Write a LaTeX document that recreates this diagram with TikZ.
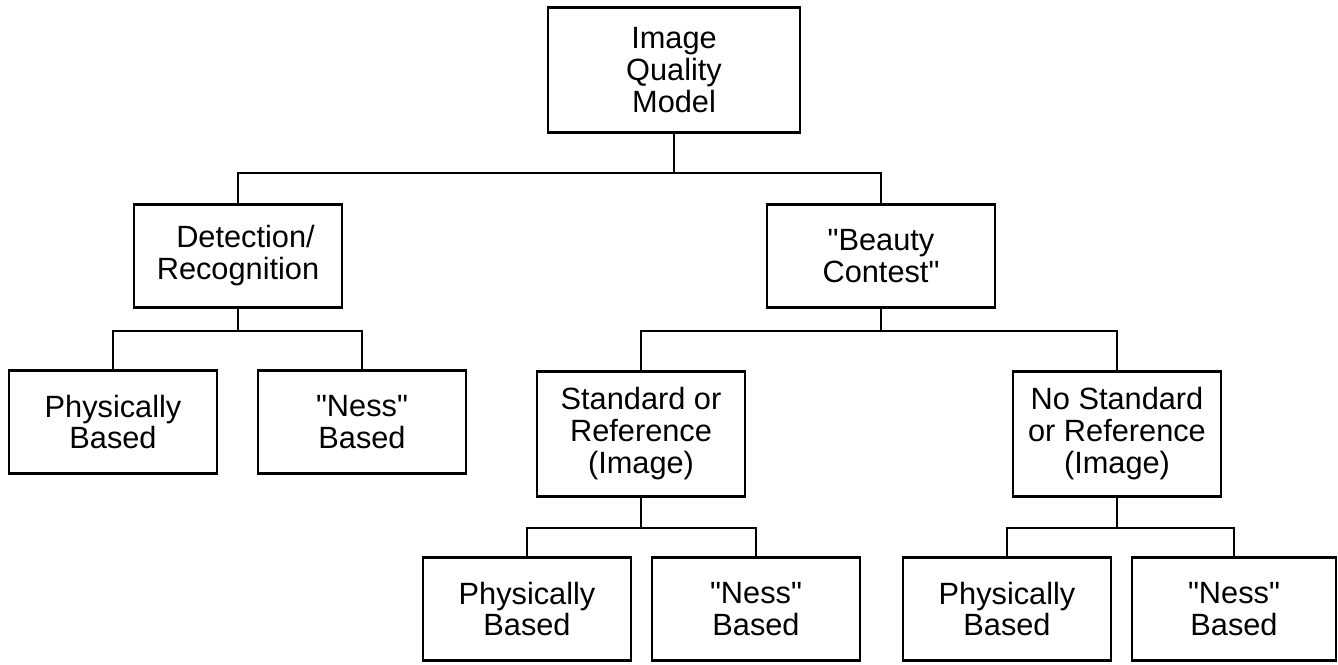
\documentclass[tikz,border=0pt]{standalone}
\usepackage{fontspec}
\setmainfont{Liberation Sans}

\begin{document}
\begin{tikzpicture}[x=0.02cm,y=-0.02cm,
  box/.style={draw,line width=1.2pt,minimum width=4.16cm,minimum height=2.06cm,
    align=center,inner sep=0pt,font=\fontsize{17.5}{18.2}\selectfont},
  tallbox/.style={box,minimum height=2.5cm},
  link/.style={line width=0.9pt}]
  \useasboundingbox (0,0) rectangle (1338,665);
  \node[tallbox,minimum width=5.04cm] (iqm) at (674,70) {Image\\Quality\\Model};
  \node[box] (det) at (238,256) {\hspace{0.3cm}Detection/\\Recognition};
  \node[box,minimum width=4.56cm] (beauty) at (881,256) {\textquotedbl Beauty\\Contest\textquotedbl};
  \node[box] (physA) at (113,422) {Physically\\Based};
  \node[box] (nessA) at (362,422) {\textquotedbl Ness\textquotedbl\\Based};
  \node[tallbox] (std) at (641,434) {Standard or\\Reference\\(Image)};
  \node[tallbox] (nostd) at (1117,434) {No Standard\\or Reference\\(Image)};
  \node[box] (physB) at (527,609) {Physically\\Based};
  \node[box] (nessB) at (756,609) {\textquotedbl Ness\textquotedbl\\Based};
  \node[box] (physC) at (1007,609) {Physically\\Based};
  \node[box,minimum width=4.08cm] (nessC) at (1234,609) {\textquotedbl Ness\textquotedbl\\Based};
  \coordinate (j1) at (674,173);
  \coordinate (j2) at (238,331);
  \coordinate (j3) at (881,331);
  \coordinate (j4) at (641,528);
  \coordinate (j5) at (1117,528);
  \draw[link] (iqm.south) -- (j1) (det.north) |- (j1) -| (beauty.north);
  \draw[link] (det.south) -- (j2) (physA.north) |- (j2) -| (nessA.north);
  \draw[link] (beauty.south) -- (j3) (std.north) |- (j3) -| (nostd.north);
  \draw[link] (std.south) -- (j4) (physB.north) |- (j4) -| (nessB.north);
  \draw[link] (nostd.south) -- (j5) (physC.north) |- (j5) -| (nessC.north);
\end{tikzpicture}
\end{document}
